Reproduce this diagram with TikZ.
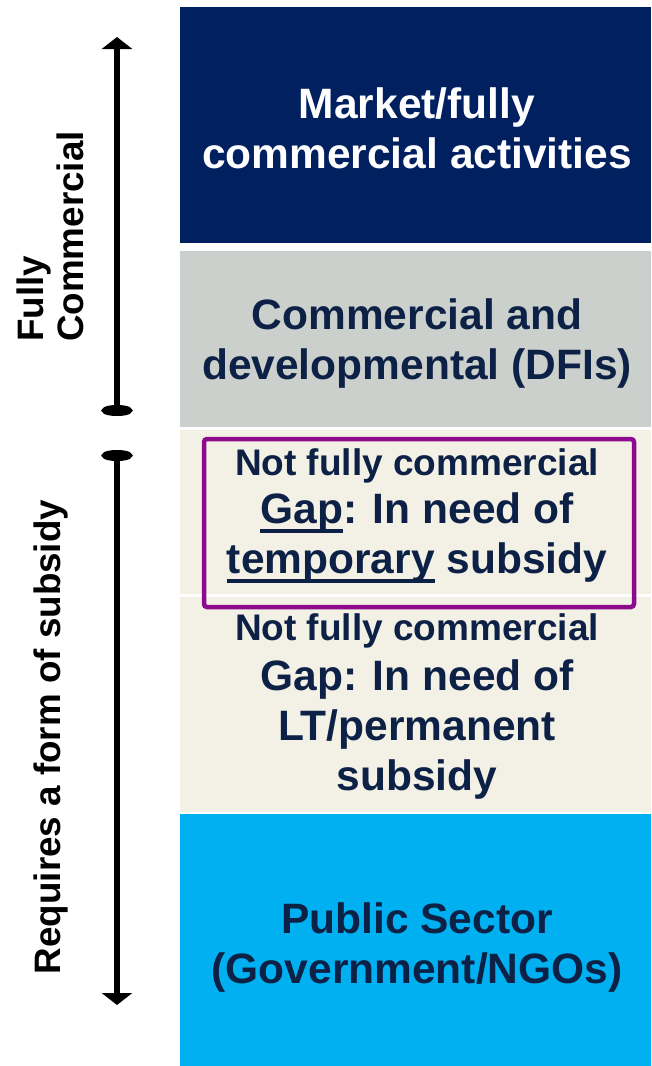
\documentclass[tikz,border=0pt]{standalone}
\usepackage{fontspec}
\setmainfont{Liberation Sans}
\usetikzlibrary{arrows.meta}
\definecolor{navyblk}{HTML}{002060}
\definecolor{grayblk}{HTML}{CBD0CC}
\definecolor{beigeblk}{HTML}{F3F1E6}
\definecolor{blueblk}{HTML}{00B0F0}
\definecolor{txt}{HTML}{0C2145}
\definecolor{purp}{HTML}{8C0A8C}
\newcommand\myul[1]{\setbox0\hbox{#1}\rlap{\rule[-9.5pt]{\wd0}{4pt}}\box0\relax}
\tikzset{
  blk/.style={draw=none, minimum width=471pt, anchor=north west, inner sep=0pt, outer sep=0pt},
  tl/.style={anchor=base, inner sep=0pt, text=txt, font=\fontsize{42.5}{50}\selectfont\bfseries},
  tls/.style={anchor=base, inner sep=0pt, text=txt, font=\fontsize{37}{44}\selectfont\bfseries},
  lbl/.style={inner sep=0pt, text=black, rotate=90, font=\fontsize{36.8}{42}\selectfont\bfseries},
  arr/.style={line width=6pt, black, {Ellipse[width=30pt,length=11pt]}-{Triangle[width=30pt,length=12pt]}}
}
\begin{document}
\begin{tikzpicture}[x=1pt,y=-1pt]
\useasboundingbox (0,0) rectangle (651,1066);
% blocks
\node[blk, fill=navyblk, minimum height=236pt] (b1) at (180,7) {};
\node[blk, fill=grayblk, minimum height=176pt] (b2) at (180,251) {};
\node[blk, fill=beigeblk, minimum height=164pt] (b3) at (180,430) {};
\node[blk, fill=beigeblk, minimum height=215pt] (b4) at (180,597) {};
\node[blk, fill=blueblk, minimum height=252pt] (b5) at (180,814) {};
% texts
\node[tl, text=white] (t1a) at (417,118) {Market/fully};
\node[tl, text=white] (t1b) at (417,168) {commercial activities};
\node[tl] (t2a) at (417,329) {Commercial and};
\node[tl] (t2b) at (417,379) {developmental (DFIs)};
\node[tls] (t3a) at (417,475) {Not fully commercial};
\node[tl] (t3b) at (417,523) {\myul{Gap}: In need of};
\node[tl] (t3c) at (417,573) {\myul{temporary} subsidy};
\node[tls] (t4a) at (417,640) {Not fully commercial};
\node[tl] (t4b) at (417,690) {Gap: In need of};
\node[tl] (t4c) at (417,740) {LT/permanent};
\node[tl] (t4d) at (417,790) {subsidy};
\node[tl] (t5a) at (417,933) {Public Sector};
\node[tl] (t5b) at (417,983) {(Government/NGOs)};
% highlight box
\node[draw=purp, line width=4.5pt, rounded corners=3pt, minimum width=430pt, minimum height=168pt, inner sep=0pt] (pbox) at (419,523) {};
% arrows
\coordinate (a1s) at (117,416);
\coordinate (a1e) at (117,37);
\coordinate (a2s) at (117,450);
\coordinate (a2e) at (117,1005);
\draw[arr] (a1s) -- (a1e);
\draw[arr] (a2s) -- (a2e);
% side labels
\node[lbl, anchor=base west] (fully) at (43.5,342) {Fully};
\node[lbl, anchor=base west] (comm) at (83.5,342) {Commercial};
\node[lbl, anchor=base] (req) at (60,737) {Requires a form of subsidy};
\end{tikzpicture}
\end{document}
